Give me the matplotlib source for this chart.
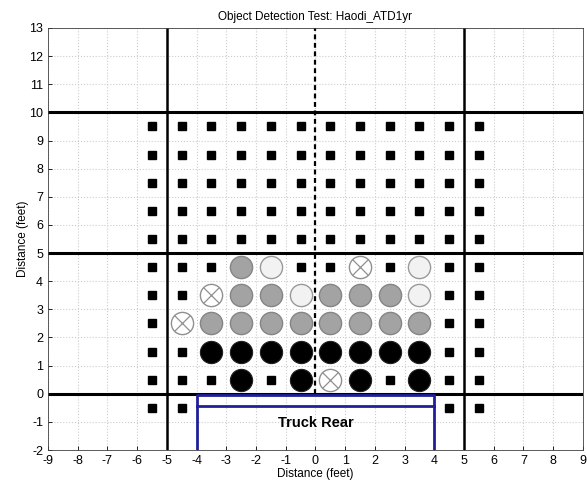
import matplotlib
matplotlib.use("Agg")
import matplotlib.pyplot as plt

plt.rcParams['font.family'] = ['Liberation Sans', 'DejaVu Sans']
plt.rcParams['axes.unicode_minus'] = False

title = "Object Detection Test: Haodi_ATD1yr"
x_label = "Distance (feet)"
y_label = "Distance (feet)"
x_ticks = list(range(-9, 10))
y_ticks = list(range(-2, 14))

x_cols = [-5.5, -4.5, -3.5, -2.5, -1.5, -0.5, 0.5, 1.5, 2.5, 3.5, 4.5, 5.5]
# codes: s=square, b=black circle, g=gray circle, l=light circle, x=crossed circle, .=none
row_y = [9.5, 8.5, 7.5, 6.5, 5.5, 4.5, 3.5, 2.5, 1.5, 0.5, -0.5]
row_codes = [
    "ssssssssssss",
    "ssssssssssss",
    "ssssssssssss",
    "ssssssssssss",
    "ssssssssssss",
    "sssglssxslss",
    "ssxgglgggls s".replace(" ", ""),
    "sxggggggggss",
    "ssbbbbbbbbss",
    "sssbsbxbsbss",
    "ss........ss",
]

thick_h = [0, 5, 10]
thick_v = [-5, 5]
truck_x = [-4, 4]
truck_y = [-2, -0.05]
truck_inner_y = -0.45
truck_label = "Truck Rear"

fig = plt.figure(figsize=(5.87, 4.84), dpi=100)
ax = fig.add_axes([0.0818, 0.0702, 0.911, 0.872])
ax.set_xlim(-9, 9)
ax.set_ylim(-2, 13)
ax.set_xticks(x_ticks)
ax.set_yticks(y_ticks)
ax.tick_params(direction='in', length=3, labelsize=9, width=0.6, top=False, right=False)
ax.grid(True, color='#cccccc', linestyle=':', linewidth=0.8)
ax.set_axisbelow(True)
for s in ax.spines.values():
    s.set_linewidth(0.6)
    s.set_color('#404040')

for y in thick_h:
    ax.axhline(y, color='black', lw=2.2, zorder=2)
for x in thick_v:
    ax.axvline(x, color='black', lw=1.8, zorder=2)
ax.plot([0, 0], [0, 13], color='black', lw=1.6, ls=(0, (2.2, 1.6)), zorder=2)

blue = '#1f1f9a'
ax.plot([truck_x[0], truck_x[0], truck_x[1], truck_x[1]],
        [truck_y[0], truck_y[1], truck_y[1], truck_y[0]], color=blue, lw=2, zorder=3)
ax.plot(truck_x, [truck_inner_y, truck_inner_y], color=blue, lw=2, zorder=3)
ax.text(0, -1.05, truck_label, ha='center', va='center', fontsize=10.5, fontweight='bold')

circ = 16
for yv, codes in zip(row_y, row_codes):
    for xv, c in zip(x_cols, codes):
        if c == 's':
            ax.plot(xv, yv, 's', ms=5.2, color='black', zorder=4)
        elif c == 'b':
            ax.plot(xv, yv, 'o', ms=circ, mfc='black', mec='#202020', mew=0.8, zorder=4)
        elif c == 'g':
            ax.plot(xv, yv, 'o', ms=circ, mfc='#a3a3a3', mec='#858585', mew=1.0, zorder=4)
        elif c == 'l':
            ax.plot(xv, yv, 'o', ms=circ, mfc='#f2f2f2', mec='#9a9a9a', mew=1.0, zorder=4)
        elif c == 'x':
            ax.plot(xv, yv, 'o', ms=circ, mfc='white', mec='#909090', mew=1.0, zorder=4)
            ax.plot(xv, yv, 'x', ms=circ * 0.7, color='#909090', mew=0.9, zorder=5)

ax.set_title(title, fontsize=8.5, pad=6)
ax.set_xlabel(x_label, fontsize=8.5, labelpad=1)
ax.set_ylabel(y_label, fontsize=8.5, labelpad=0)

fig.savefig("out.png", dpi=100)
